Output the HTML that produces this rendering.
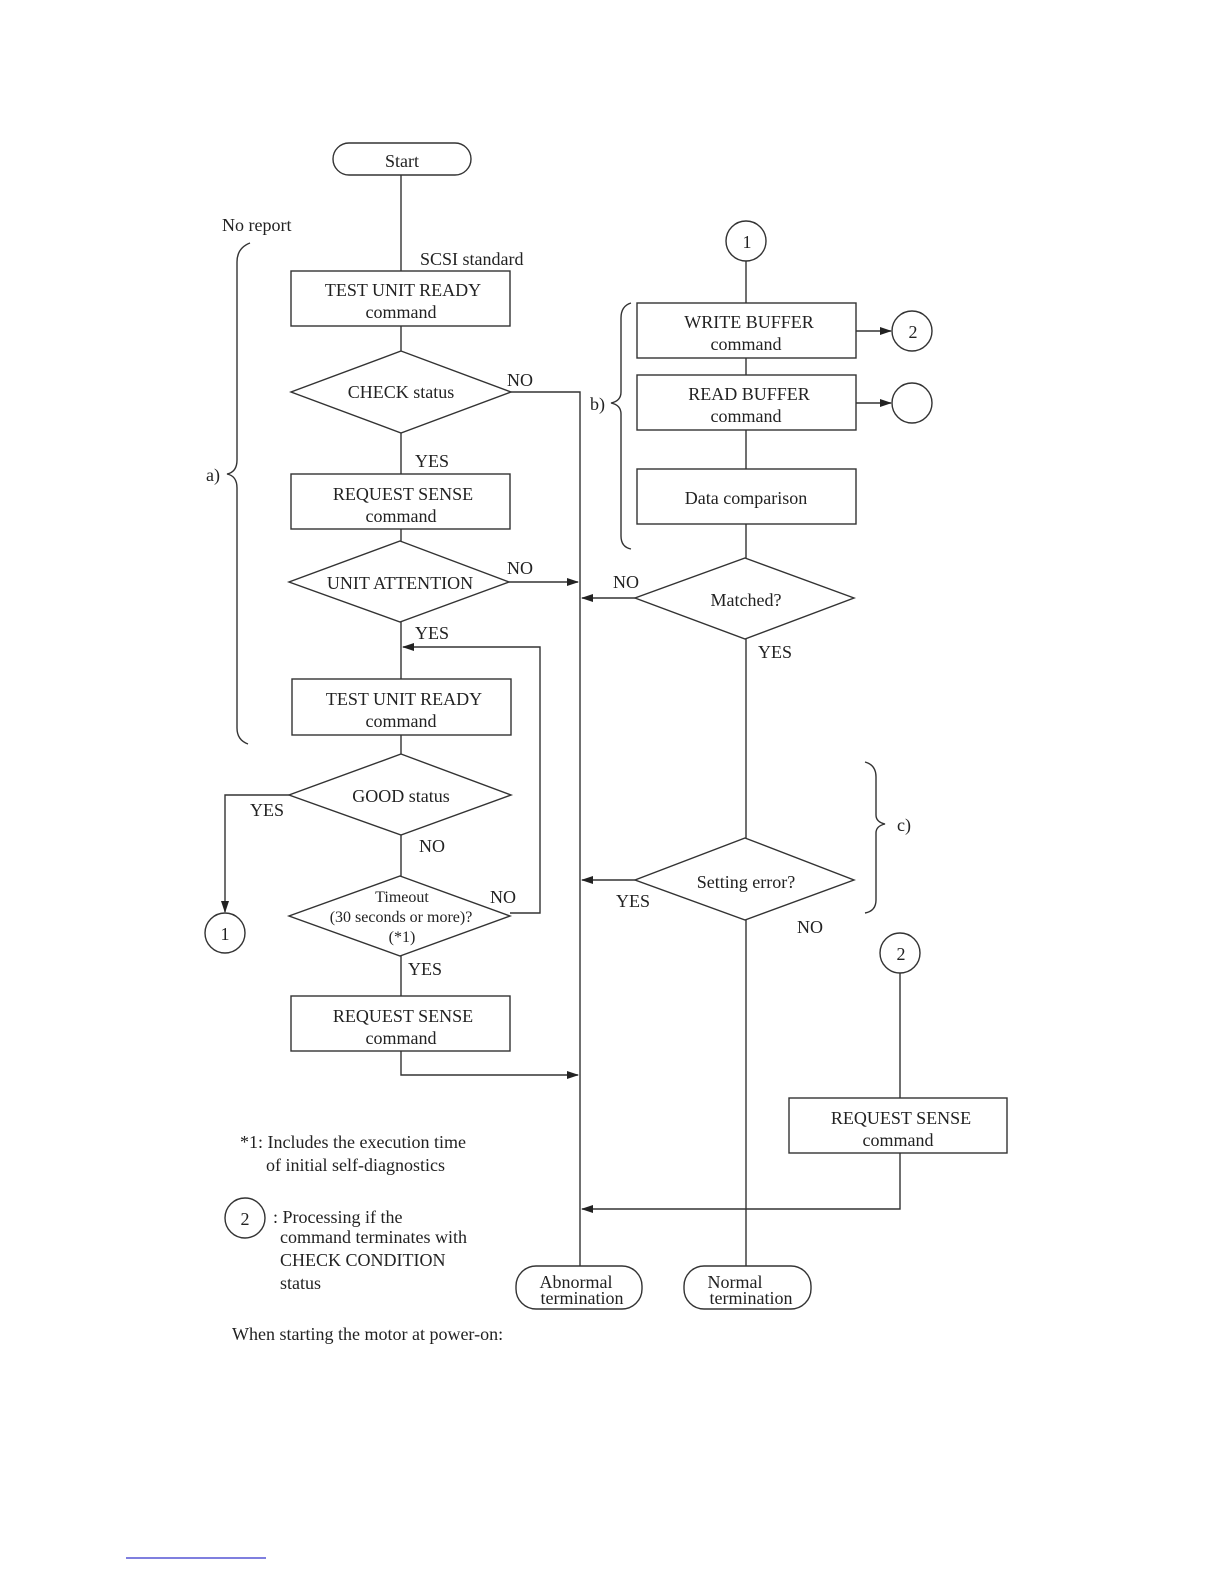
<!DOCTYPE html>
<html><head><meta charset="utf-8"><style>
html,body{margin:0;padding:0;background:#fff}
svg{display:block}
text{font-family:"Liberation Serif",serif;fill:#222}
</style></head><body>
<svg width="1224" height="1584" viewBox="0 0 1224 1584" xmlns="http://www.w3.org/2000/svg">
<defs><marker id="a" markerWidth="12" markerHeight="8" refX="11" refY="4" orient="auto" markerUnits="userSpaceOnUse"><path d="M0,0 L12,4 L0,8 z" fill="#222"/></marker></defs>
<g fill="none" stroke="#333" stroke-width="1.4">
<rect x="333" y="143" width="138" height="32" rx="16"/>
<line x1="401" y1="175" x2="401" y2="271"/>
<rect x="291" y="271" width="219" height="55"/>
<line x1="401" y1="326" x2="401" y2="351"/>
<polygon points="401,351 511,392 401,433 291,392"/>
<polyline points="511,392 580,392 580,1266"/>
<line x1="401" y1="433" x2="401" y2="474"/>
<rect x="291" y="474" width="219" height="55"/>
<line x1="401" y1="529" x2="401" y2="541"/>
<polygon points="400,541 509,582 400,622 289,582"/>
<line x1="509" y1="582" x2="578" y2="582" marker-end="url(#a)"/>
<line x1="401" y1="622" x2="401" y2="679"/>
<polyline points="510,913 540,913 540,647 403,647" marker-end="url(#a)"/>
<rect x="292" y="679" width="219" height="56"/>
<line x1="401" y1="735" x2="401" y2="754"/>
<polygon points="401,754 511,795 401,835 289,795"/>
<polyline points="289,795 225,795 225,912" marker-end="url(#a)"/>
<circle cx="225" cy="933" r="20"/>
<line x1="401" y1="835" x2="401" y2="876"/>
<polygon points="400,876 510,916 400,956 289,916"/>
<line x1="401" y1="956" x2="401" y2="996"/>
<rect x="291" y="996" width="219" height="55"/>
<polyline points="401,1051 401,1075 578,1075" marker-end="url(#a)"/>
<rect x="516" y="1266" width="126" height="43" rx="20"/>
<rect x="684" y="1266" width="127" height="43" rx="20"/>
<circle cx="746" cy="241" r="20"/>
<line x1="746" y1="261" x2="746" y2="303"/>
<rect x="637" y="303" width="219" height="55"/>
<line x1="856" y1="331" x2="891" y2="331" marker-end="url(#a)"/>
<circle cx="912" cy="331" r="20"/>
<line x1="746" y1="358" x2="746" y2="375"/>
<rect x="637" y="375" width="219" height="55"/>
<line x1="856" y1="403" x2="891" y2="403" marker-end="url(#a)"/>
<circle cx="912" cy="403" r="20"/>
<line x1="746" y1="430" x2="746" y2="469"/>
<rect x="637" y="469" width="219" height="55"/>
<line x1="746" y1="524" x2="746" y2="558"/>
<polygon points="745,558 854,598 745,639 635,598"/>
<line x1="635" y1="598" x2="582" y2="598" marker-end="url(#a)"/>
<line x1="746" y1="639" x2="746" y2="838"/>
<polygon points="745,838 854,880 745,920 635,880"/>
<line x1="635" y1="880" x2="582" y2="880" marker-end="url(#a)"/>
<line x1="746" y1="920" x2="746" y2="1266"/>
<circle cx="900" cy="953" r="20"/>
<line x1="900" y1="973" x2="900" y2="1098"/>
<rect x="789" y="1098" width="218" height="55"/>
<polyline points="900,1153 900,1209 582,1209" marker-end="url(#a)"/>
<circle cx="245" cy="1218" r="20"/>
<path d="M250,243 Q237,248 237,262 L237,460 Q237,472 227,474 Q237,476 237,488 L237,728 Q237,740 248,744"/>
<path d="M631,303 Q621,306 621,318 L621,392 Q621,401 611,403 Q621,405 621,414 L621,536 Q621,547 631,549"/>
<path d="M865,762 Q876,765 876,777 L876,815 Q876,822 885,824 Q876,826 876,833 L876,900 Q876,911 865,913"/>
</g>
<line x1="126" y1="1558" x2="266" y2="1558" stroke="#33c" stroke-width="1.2"/>
<g font-size="18" text-anchor="middle">
<text x="402" y="167">Start</text>
<text x="403" y="296">TEST UNIT READY</text><text x="401" y="318">command</text>
<text x="401" y="398">CHECK status</text>
<text x="403" y="500">REQUEST SENSE</text><text x="401" y="522">command</text>
<text x="400" y="589">UNIT ATTENTION</text>
<text x="404" y="705">TEST UNIT READY</text><text x="401" y="727">command</text>
<text x="401" y="802">GOOD status</text>
<text x="402" y="902" font-size="16">Timeout</text>
<text x="401" y="922" font-size="16">(30 seconds or more)?</text>
<text x="402" y="942" font-size="16">(*1)</text>
<text x="403" y="1022">REQUEST SENSE</text><text x="401" y="1044">command</text>
<text x="225" y="940">1</text>
<text x="747" y="248">1</text>
<text x="913" y="338">2</text>
<text x="901" y="960">2</text>
<text x="245" y="1225">2</text>
<text x="749" y="328">WRITE BUFFER</text><text x="746" y="350">command</text>
<text x="749" y="400">READ BUFFER</text><text x="746" y="422">command</text>
<text x="746" y="504">Data comparison</text>
<text x="746" y="606">Matched?</text>
<text x="746" y="888">Setting error?</text>
<text x="901" y="1124">REQUEST SENSE</text><text x="898" y="1146">command</text>
<text x="576" y="1288">Abnormal</text><text x="582" y="1304">termination</text>
<text x="735" y="1288">Normal</text><text x="751" y="1304">termination</text>
</g>
<g font-size="18">
<text x="222" y="231">No report</text>
<text x="420" y="265">SCSI standard</text>
<text x="507" y="386">NO</text>
<text x="415" y="467">YES</text>
<text x="507" y="574">NO</text>
<text x="415" y="639">YES</text>
<text x="250" y="816">YES</text>
<text x="419" y="852">NO</text>
<text x="490" y="903">NO</text>
<text x="408" y="975">YES</text>
<text x="613" y="588">NO</text>
<text x="758" y="658">YES</text>
<text x="616" y="907">YES</text>
<text x="797" y="933">NO</text>
<text x="206" y="481">a)</text>
<text x="590" y="410">b)</text>
<text x="897" y="831">c)</text>
<text x="240" y="1148">*1: Includes the execution time</text>
<text x="266" y="1171">of initial self-diagnostics</text>
<text x="273" y="1223">: Processing if the</text>
<text x="280" y="1243">command terminates with</text>
<text x="280" y="1266">CHECK CONDITION</text>
<text x="280" y="1289">status</text>
<text x="232" y="1340">When starting the motor at power-on:</text>
</g>
</svg>
</body></html>
